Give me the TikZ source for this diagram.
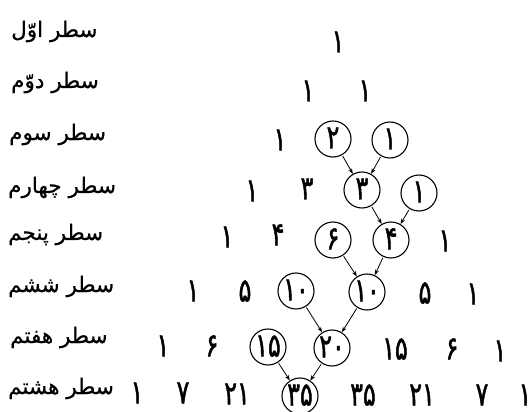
\documentclass[tikz,border=0pt]{standalone}
\usepackage{fontspec}
\newfontfamily\arabicfont[Script=Arabic,FakeBold=0.6]{DejaVu Sans}
\newfontfamily\pdigitfont[Script=Arabic,FakeStretch=0.72,FakeBold=1.4]{DejaVu Sans}
\TeXXeTstate=1
\usetikzlibrary{arrows.meta}
\newcommand\pnumfont{\pdigitfont\fontsize{33}{36}\selectfont}
\newcommand\plabfont{\arabicfont\fontsize{21.5}{24}\selectfont}
\begin{document}
\begin{tikzpicture}[x=1pt,y=-1pt,
  num/.style={font=\pnumfont, inner sep=0pt, text height=19pt, text depth=0pt},
  circ/.style={num, circle, draw, line width=1.1pt, minimum size=36pt},
  lab/.style={font=\plabfont, anchor=base west, inner sep=0pt},
  arr/.style={-{Stealth[length=5.5pt,width=4pt]}, line width=0.8pt, shorten <=1pt}]
\useasboundingbox[fill=white] (0,0) rectangle (531,412);
% labels
\node[lab] (l1) at (11,37)  {\beginR سطر اوّل\endR};
\node[lab] (l2) at (11,88)  {\beginR سطر دوّم\endR};
\node[lab] (l3) at (9,140) {\beginR سطر سوم\endR};
\node[lab] (l4) at (8,193) {\beginR سطر چهارم\endR};
\node[lab] (l5) at (8,240) {\beginR سطر پنجم\endR};
\node[lab] (l6) at (8,292) {\beginR سطر ششم\endR};
\node[lab] (l7) at (10,343) {\beginR سطر هفتم\endR};
\node[lab] (l8) at (8,394) {\beginR سطر هشتم\endR};
% row 1
\node[num] (a1) at (338,43) {۱};
% row 2
\node[num] (b1) at (308,92) {۱};
\node[num] (b2) at (365,92) {۱};
% row 3
\node[num]  (c1) at (280,141) {۱};
\node[circ] (c2) at (333,139) {۲};
\node[circ] (c3) at (390,140) {۱};
% row 4
\node[num]  (d1) at (252,192) {۱};
\node[num]  (d2) at (307,190) {۳};
\node[circ] (d3) at (362,190) {۳};
\node[circ] (d4) at (419,193) {۱};
% row 5
\node[num]  (e1) at (227,238) {۱};
\node[num]  (e2) at (278,236) {۴};
\node[circ] (e3) at (333,240) {۶};
\node[circ] (e4) at (391,240) {۴};
\node[num]  (e5) at (445,242) {۱};
% row 6
\node[num]  (f1) at (193,292) {۱};
\node[num]  (f2) at (245,292) {۵};
\node[circ] (f3) at (296,291) {۱۰};
\node[circ] (f4) at (367,292) {۱۰};
\node[num]  (f5) at (425,294) {۵};
\node[num]  (f6) at (473,295) {۱};
% row 7
\node[num]  (g1) at (163,347) {۱};
\node[num]  (g2) at (212,347) {۶};
\node[circ] (g3) at (268,347) {۱۵};
\node[circ] (g4) at (332,348) {۲۰};
\node[num]  (g5) at (395,350) {۱۵};
\node[num]  (g6) at (452,350) {۶};
\node[num]  (g7) at (500,352) {۱};
% row 8
\node[num]  (h1) at (137,394) {۱};
\node[num]  (h2) at (183,394) {۷};
\node[num]  (h3) at (237,395) {۲۱};
\node[circ] (h4) at (300,396) {۳۵};
\node[num]  (h5) at (363,396) {۳۵};
\node[num]  (h6) at (422,396) {۲۱};
\node[num]  (h7) at (482,396) {۷};
\node[num]  (h8) at (525,396) {۱};
% arrows
\draw[arr] (c2) -- (d3);
\draw[arr] (c3) -- (d3);
\draw[arr] (d3) -- (e4);
\draw[arr] (d4) -- (e4);
\draw[arr] (e3) -- (f4);
\draw[arr] (e4) -- (f4);
\draw[arr] (f3) -- (g4);
\draw[arr] (f4) -- (g4);
\draw[arr] (g3) -- (h4);
\draw[arr] (g4) -- (h4);
\end{tikzpicture}
\end{document}
